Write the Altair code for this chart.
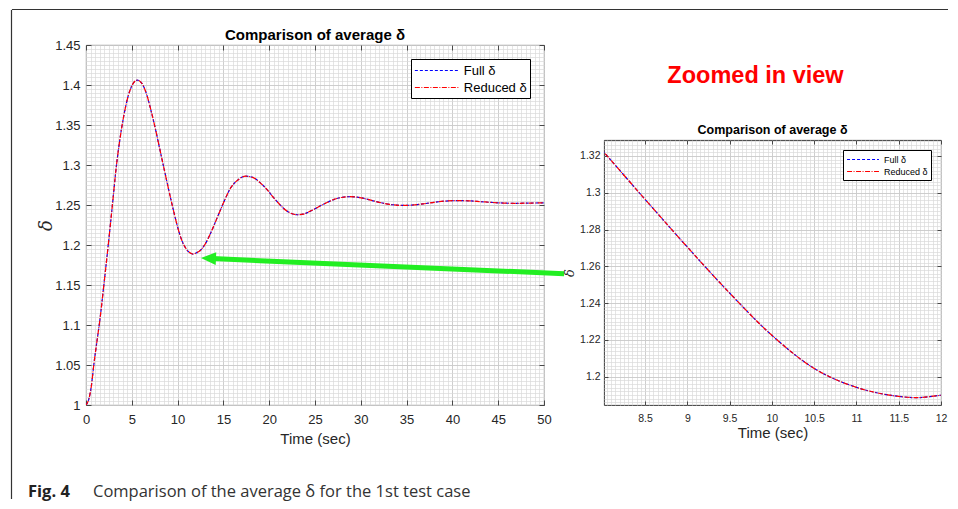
import altair as alt
import pandas as pd

# ---- data ----
time_sec = [0.0, 0.3, 0.6, 0.85, 1.2, 1.5, 1.95, 2.4, 2.9, 3.3, 3.7, 4.1, 4.6, 5.1, 5.6,
            6.1, 6.6, 7.1, 7.6, 8.0, 8.5, 9.0, 9.5, 10.0, 10.5, 11.0, 11.5, 11.7, 12.0,
            12.5, 13.0, 13.65, 14.5, 15.0, 15.8, 16.5, 17.4, 18.2, 19.0, 19.5, 20.0, 20.5,
            21.0, 21.5, 22.0, 22.5, 23.1, 23.7, 24.3, 25.0, 25.7, 26.5, 27.3, 28.0, 28.8,
            29.6, 30.5, 31.5, 32.5, 33.5, 34.6, 35.7, 36.8, 38.0, 39.2, 40.5, 41.8, 43.0,
            44.3, 45.6, 47.0, 48.5, 50.0]
full_delta = [1.000, 1.007, 1.025, 1.050, 1.080, 1.105, 1.150, 1.197, 1.252, 1.297, 1.332,
              1.360, 1.386, 1.401, 1.406, 1.402, 1.389, 1.368, 1.344, 1.3228, 1.2965, 1.2705,
              1.2455, 1.2225, 1.2045, 1.1942, 1.1893, 1.1886, 1.1899, 1.1935, 1.2010, 1.2160,
              1.2390, 1.2525, 1.2715, 1.2805, 1.2860, 1.2845, 1.2780, 1.2725, 1.2660, 1.2590,
              1.2525, 1.2465, 1.2420, 1.2390, 1.2378, 1.2385, 1.2412, 1.2452, 1.2496, 1.2542,
              1.2578, 1.2597, 1.2604, 1.2598, 1.2578, 1.2548, 1.2521, 1.2503, 1.2495, 1.2500,
              1.2514, 1.2534, 1.2549, 1.2555, 1.2552, 1.2543, 1.2532, 1.2524, 1.2521, 1.2524,
              1.2527]
reduced_delta = [1.000, 1.007, 1.025, 1.050, 1.080, 1.105, 1.150, 1.197, 1.252, 1.297, 1.332,
                 1.360, 1.386, 1.401, 1.406, 1.402, 1.389, 1.368, 1.344, 1.3228, 1.2965, 1.2705,
                 1.2455, 1.2225, 1.2045, 1.1942, 1.1893, 1.1886, 1.1899, 1.1935, 1.2010, 1.2160,
                 1.2390, 1.2525, 1.2715, 1.2805, 1.2860, 1.2845, 1.2780, 1.2725, 1.2660, 1.2590,
                 1.2525, 1.2465, 1.2420, 1.2390, 1.2378, 1.2385, 1.2412, 1.2452, 1.2496, 1.2542,
                 1.2578, 1.2597, 1.2604, 1.2598, 1.2578, 1.2548, 1.2521, 1.2503, 1.2495, 1.2500,
                 1.2514, 1.2534, 1.2549, 1.2555, 1.2552, 1.2543, 1.2532, 1.2524, 1.2521, 1.2524,
                 1.2527]
series_names = ["Full δ", "Reduced δ"]
series_colors = ["#0000ff", "#ff0000"]

arrow_time = [52.2, 13.8]
arrow_delta = [1.1641, 1.1830]
arrow_head_time = [13.37]
arrow_head_delta = [1.1834]

left_x_domain = [0.0, 50.0]
left_y_domain = [1.0, 1.45]
right_x_domain = [8.015, 12.0]
right_y_domain = [1.1846, 1.3287]

panel_title = "Comparison of average δ"
x_title = "Time (sec)"
y_title = "δ"
zoom_label = "Zoomed in view"
caption_bold = "Fig. 4"
caption_text = "Comparison of the average δ for the 1st test case"

# ---- tables ----
df = pd.DataFrame({
    "t": time_sec + time_sec,
    "delta": full_delta + reduced_delta,
    "series": [series_names[0]] * len(time_sec) + [series_names[1]] * len(time_sec),
})
arrow_df = pd.DataFrame({"t": arrow_time, "delta": arrow_delta})
head_df = pd.DataFrame({"t": arrow_head_time, "delta": arrow_head_delta})
one = pd.DataFrame({"k": [0]})


def steps(start, stop, step):
    n = int(round((stop - start) / step))
    return [round(start + i * step, 6) for i in range(n + 1)]


AX = "#262626"
FONT = "Liberation Sans"
LEG_PATH = "M -2.9 0 L 2.9 0"
DASH_FULL = [3, 2]
DASH_REDUCED = [5, 1.5, 1, 1.5]


def panel(xdom, ydom, xmaj, xmin, ymaj, ymin, w, h, lab_fs, xt_fs, yt_fs, tk,
          leg_off, leg_s, leg_len, leg_fs, leg_pad, leg_rowpad, title_fs, title_y,
          xt_pad, yt_x, ylab_pad):
    sx = alt.Scale(domain=xdom, nice=False, zero=False)
    sy = alt.Scale(domain=ydom, nice=False, zero=False)
    base = alt.Chart(df)

    def hidden(xaxis, yaxis):
        return base.mark_line(opacity=0, clip=True).encode(
            x=alt.X("t:Q", scale=sx, axis=xaxis),
            y=alt.Y("delta:Q", scale=sy, axis=yaxis),
        )

    minor = hidden(
        alt.Axis(orient="bottom", values=xmin, grid=True, gridColor="#dadada",
                 gridWidth=0.7, ticks=False, labels=False, domain=False, title=None),
        alt.Axis(orient="left", values=ymin, grid=True, gridColor="#dadada",
                 gridWidth=0.7, ticks=False, labels=False, domain=False, title=None),
    )
    major = hidden(
        alt.Axis(orient="bottom", values=xmaj, grid=True, gridColor="#c8c8c8",
                 gridWidth=0.8, ticks=False, labels=True, domain=False, format="~g",
                 labelFlush=False, labelFont=FONT, labelFontSize=lab_fs, labelColor=AX,
                 labelPadding=8, title=x_title, titleFont=FONT, titleFontSize=xt_fs,
                 titleFontWeight="normal", titleColor=AX, titlePadding=xt_pad),
        alt.Axis(orient="left", values=ymaj, grid=True, gridColor="#c8c8c8",
                 gridWidth=0.8, ticks=False, labels=True, domain=False, format="~g",
                 labelFlush=False, labelFont=FONT, labelFontSize=lab_fs, labelColor=AX,
                 labelPadding=ylab_pad, title=y_title, titleFont="DejaVu Serif",
                 titleFontSize=yt_fs, titleFontStyle="italic", titleFontWeight="normal",
                 titleColor=AX, titleX=yt_x, titleY=h / 2.0, titleBaseline="middle",
                 titleAlign="center"),
    )
    ticks_bl = hidden(
        alt.Axis(orient="bottom", offset=-tk, values=xmaj, grid=False, ticks=True,
                 tickSize=tk, tickColor=AX, tickWidth=0.8, labels=False, domain=False,
                 title=None),
        alt.Axis(orient="left", offset=-tk, values=ymaj, grid=False, ticks=True,
                 tickSize=tk, tickColor=AX, tickWidth=0.8, labels=False, domain=False,
                 title=None),
    )
    ticks_tr = hidden(
        alt.Axis(orient="top", offset=-tk, values=xmaj, grid=False, ticks=True,
                 tickSize=tk, tickColor=AX, tickWidth=0.8, labels=False, domain=False,
                 title=None),
        alt.Axis(orient="right", offset=-tk, values=ymaj, grid=False, ticks=True,
                 tickSize=tk, tickColor=AX, tickWidth=0.8, labels=False, domain=False,
                 title=None),
    )
    overhang = (leg_len - leg_s) / 2.0
    legend = alt.Legend(title=None, orient="top-right", offset=leg_off, padding=leg_pad,
                        strokeColor="#000000", fillColor="#ffffff", symbolType=LEG_PATH,
                        symbolSize=leg_s * leg_s, symbolStrokeWidth=1.2,
                        symbolDash=[3.5, 1.8], symbolOffset=overhang,
                        labelOffset=overhang + 4, labelFont=FONT, labelFontSize=leg_fs,
                        labelColor="#000000", rowPadding=leg_rowpad)
    lines = base.mark_line(strokeWidth=1.2, interpolate="monotone", clip=True).encode(
        x=alt.X("t:Q", scale=sx, axis=None),
        y=alt.Y("delta:Q", scale=sy, axis=None),
        color=alt.Color("series:N", scale=alt.Scale(domain=series_names,
                                                    range=series_colors),
                        legend=legend),
        strokeDash=alt.StrokeDash("series:N",
                                  scale=alt.Scale(domain=series_names,
                                                  range=[DASH_FULL, DASH_REDUCED]),
                                  legend=None),
    )
    title = alt.Chart(one).mark_text(
        text=panel_title, font=FONT, fontSize=title_fs, fontWeight="bold",
        color="#000000", align="center", baseline="alphabetic").encode(
        x=alt.value(w / 2.0), y=alt.value(title_y))
    layers = [minor, major, ticks_bl, ticks_tr, lines, title]
    return layers, sx, sy


# ---- left panel ----
LW, LH = 458, 360
L_layers, lsx, lsy = panel(
    left_x_domain, left_y_domain, steps(0, 50, 5), steps(0, 50, 0.5),
    steps(1.0, 1.45, 0.05), steps(1.0, 1.45, 0.005), LW, LH,
    13, 15, 18, 5, 14, 15.2, 44, 13, 3, 1, 15, -4.7, 5, -40, 6)

arrow = alt.Chart(arrow_df).mark_line(color="#22ee22", strokeWidth=5, strokeCap="butt").encode(
    x=alt.X("t:Q", scale=lsx, axis=None),
    y=alt.Y("delta:Q", scale=lsy, axis=None),
)
head = alt.Chart(head_df).mark_point(
    shape="M -1 0 L 1 -0.85 L 1 0.85 Z", filled=True, color="#22ee22", opacity=1,
    size=225, angle=2.5, strokeWidth=0).encode(
    x=alt.X("t:Q", scale=lsx, axis=None),
    y=alt.Y("delta:Q", scale=lsy, axis=None),
)
# figure frame (top and left edges)
frame_top = alt.Chart(one).mark_rect(color="#333333").encode(
    x=alt.value(-74.1), x2=alt.value(862), y=alt.value(-36.1), y2=alt.value(-34.9))
frame_left = alt.Chart(one).mark_rect(color="#333333").encode(
    x=alt.value(-75.1), x2=alt.value(-73.9), y=alt.value(-35.0), y2=alt.value(454))
cap1 = alt.Chart(one).mark_text(
    text=caption_bold, align="left", baseline="alphabetic", font="Open Sans",
    fontSize=16.5, fontWeight="bold", color="#222222").encode(
    x=alt.value(-58), y=alt.value(452))
cap2 = alt.Chart(one).mark_text(
    text=caption_text, align="left", baseline="alphabetic", font="Open Sans",
    fontSize=16.5, color="#333333").encode(
    x=alt.value(7), y=alt.value(452))

left = alt.layer(*L_layers, arrow, head, frame_top, frame_left, cap1, cap2).resolve_axis(
    x="independent", y="independent").properties(width=LW, height=LH)

# ---- right panel ----
RW, RH = 337, 265
R_layers, rsx, rsy = panel(
    right_x_domain, right_y_domain, steps(8.5, 12, 0.5), steps(8.05, 12, 0.05),
    steps(1.2, 1.32, 0.02), steps(1.186, 1.328, 0.002), RW, RH,
    10.5, 15, 13, 4, 10, 11, 32, 9, 3, 0, 12.5, -5.7, 2, -35, 4)

right = alt.layer(*R_layers).resolve_axis(x="independent", y="independent").properties(
    width=RW, height=RH)

zoom_text = alt.Chart(one).mark_text(
    text=zoom_label, font=FONT, fontSize=23.5, fontWeight="bold", color="#ff0000",
    align="center", baseline="alphabetic").encode(
    x=alt.value(151.5), y=alt.value(37.7)).properties(
    width=RW, height=90, view=alt.ViewBackground(stroke="transparent"))

right_col = alt.vconcat(zoom_text, right, spacing=5, bounds="flush").resolve_scale(
    color="independent", strokeDash="independent")

chart = alt.hconcat(left, right_col, spacing=60, bounds="flush").resolve_scale(
    color="independent", strokeDash="independent").properties(
    padding={"left": 2, "top": 0, "right": 0, "bottom": 0},
    background="#ffffff").configure_view(stroke=AX, strokeWidth=0.9)

chart.save("out.html", embed_options={"renderer": "svg", "actions": False})
